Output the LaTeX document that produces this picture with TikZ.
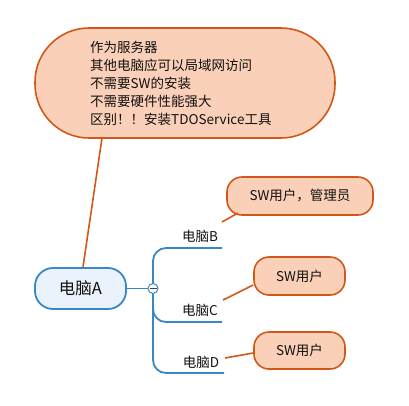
\documentclass[tikz,border=0pt]{standalone}
\usepackage{fontspec}
\setmainfont{Noto Sans CJK SC}
\definecolor{obord}{HTML}{D2581A}
\definecolor{ofill}{HTML}{FBD0B8}
\definecolor{bbord}{HTML}{3A87C8}
\definecolor{bfill}{HTML}{EAF3FB}
\definecolor{tcol}{HTML}{111111}
\tikzset{
  x=1pt,y=-1pt,
  obox/.style={draw=obord,fill=ofill,line width=1.6pt,rounded corners=13pt,inner sep=0pt,font=\fontsize{13.5}{15}\selectfont,text=tcol},
  olink/.style={draw=obord,line width=1.6pt},
  blink/.style={draw=bbord,line width=1.8pt},
  lbl/.style={font=\fontsize{13.5}{15}\selectfont,text=tcol,inner sep=0pt},
}
\begin{document}
\begin{tikzpicture}
\useasboundingbox (0,0) rectangle (409,405);
% callout
\path[obox,rounded corners=54pt] (35,28) rectangle (335,138);
\node[lbl,anchor=west,align=left,font=\fontsize{13.5}{18}\selectfont] (note) at (90,83.5)
  {作为服务器\\其他电脑应可以局域网访问\\不需要SW的安装\\不需要硬件性能强大\\区别！！安装TDOService工具};
\coordinate (notefoot) at (102,138);
% central node
\node[draw=bbord,fill=bfill,line width=1.8pt,rounded corners=18pt,minimum width=91pt,minimum height=41pt,inner sep=0pt,font=\fontsize{16.5}{18}\selectfont,text=tcol] (A) at (80.5,288.5) {电脑A};
\draw[olink] (notefoot) -- (83,267);
% branches
\coordinate (hub) at (153,288.5);
\coordinate (bend) at (222,248);
\coordinate (cend) at (222,322);
\coordinate (dend) at (224,373);
\draw[blink] (A.east) -- (hub);
\draw[blink,rounded corners=13pt] (hub) -- (153,248) -- (bend);
\draw[blink,rounded corners=13pt] (hub) -- (153,322) -- (cend);
\draw[blink,rounded corners=13pt] (hub) -- (153,373) -- (dend);
\node[circle,draw=bbord,fill=white,line width=1pt,minimum size=10pt,inner sep=0pt] (col) at (hub) {};
\draw[line width=1.2pt,tcol!80] (149.5,288.5) -- (156.5,288.5);
\node[lbl] (B) at (200,236) {电脑B};
\node[lbl] (C) at (200,310) {电脑C};
\node[lbl] (D) at (201,362) {电脑D};
% orange leaves
\node[obox,minimum width=146pt,minimum height=38pt,rounded corners=15pt] (sb) at (300,196) {SW用户，管理员};
\node[obox,minimum width=91pt,minimum height=38pt,rounded corners=15pt] (sc) at (299.5,276) {SW用户};
\node[obox,minimum width=91pt,minimum height=37pt,rounded corners=15pt] (sd) at (299.5,350.5) {SW用户};
\draw[olink] (222,222) -- (238,213);
\draw[olink] (223,300) -- (sc.west |- 0,285);
\draw[olink] (225,358) -- (sd.west |- 0,353);
\end{tikzpicture}
\end{document}
